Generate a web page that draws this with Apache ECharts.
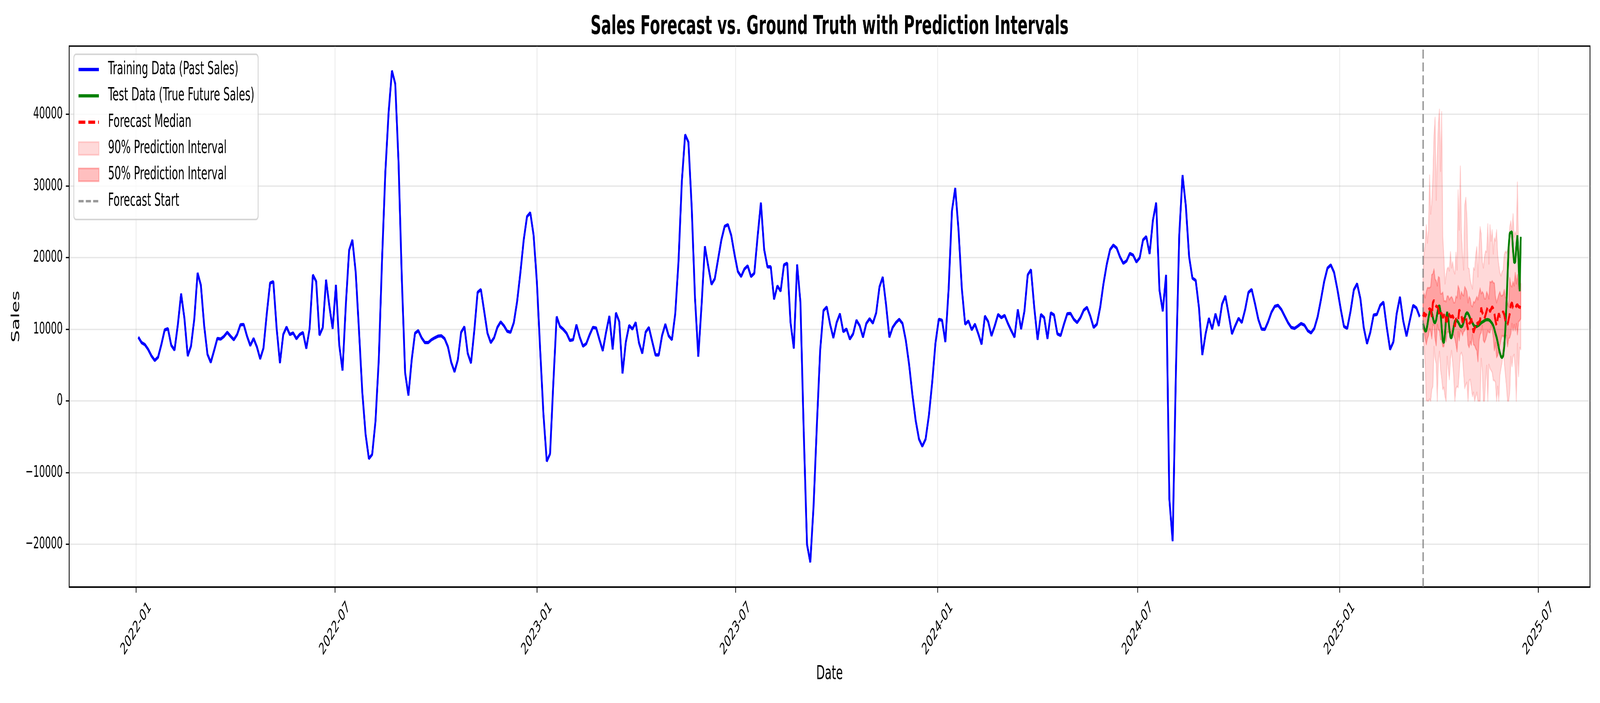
<!DOCTYPE html>
<html><head><meta charset="utf-8">
<script src="https://cdn.jsdelivr.net/npm/echarts@6/dist/echarts.min.js"></script>
<style>
html,body{margin:0;padding:0;background:#fff;overflow:hidden}
#c{width:7200px;height:1800px;transform-origin:0 0}
</style>
</head><body><div id="c"></div>
<script>
// ---------- data ----------
const trainStart = '2022-01-03';
const trainStepDays = 3;
const trainSales = [
8900,8140,7860,7190,6280,5650,6100,7860,9900,10080,
7770,7100,10620,14960,11530,6280,7640,11440,17850,16140,
10490,6510,5380,7010,8720,8630,9000,9580,9040,8540,
9270,10620,10670,9040,7730,8720,7550,5880,7370,12160,
16450,16630,10120,5290,9270,10310,9270,9490,8680,9270,
9540,7320,10080,17580,16680,9180,10220,16900,13240,10080,
16180,7820,4250,13420,
21020,22460,17940,9810,1220,-4660,-8050,-7460,-2850,5740,
19750,31960,40320,46060,44250,33310,17040,3930,770,5740,
9450,9810,8810,8140,8140,8540,8810,9040,9090,8680,
7550,5380,4070,5740,9580,10350,6640,5290,9810,15140,
15550,12520,9450,8140,8810,10260,11030,10490,9720,9580,
10940,13880,17940,22460,25720,26260,23140,16590,7100,-1940,
-8410,-7370,2580,11750,10400,9990,
9450,8450,8540,10620,8900,7640,8000,9220,10260,10170,
8540,7010,9580,11840,7190,12290,11070,3840,8230,10530,
10030,10940,8090,6640,9580,10260,8320,6420,6420,9130,
10710,9090,8540,12160,19530,30600,37150,36110,26980,14330,
6190,13420,21560,18850,16270,17040,19750,22460,24360,24590,
23100,20430,18080,17360,18400,18850,17360,17810,22920,27660,
21110,18710,18710,14190,16050,15320,18980,
19210,10940,7320,19030,13790,-4200,-20020,-22510,-14600,-3300,
7100,12610,13110,10710,8810,10940,12160,9670,10030,8630,
9360,11250,10490,8900,10800,11480,10850,12290,15910,17270,
13420,8900,10260,10940,11390,10800,8450,5060,860,-2760,
-5330,-6330,-5330,-2030,2580,8090,11390,11250,8230,15680,
26530,29700,23820,15680,10710,11160,9940,10710,9360,7910,
11840,11070,9090,10490,12070,11620,
11930,10800,9810,8900,12750,10030,12520,17580,18310,12970,
8540,12070,11620,8680,12290,11980,9360,9130,10710,12160,
12200,11390,10940,11620,12660,13060,11840,10260,10710,13060,
16360,19070,21110,21740,21330,20110,19210,19530,20570,20340,
19390,19980,22460,22920,20520,25180,27660,15460,12520,17580,
-13700,-19570,4380,23140,31500,27210,20110,17130,16810,12970,
6420,9360,11530,10030,12160,10490,
13510,14640,12070,9360,10490,11530,10940,12750,15140,15550,
13560,11390,10030,9990,11070,12380,13200,13330,12750,11840,
10940,10260,10120,10440,10800,10580,9810,9490,10120,11710,
14100,16680,18530,18980,17940,15590,12880,10400,10120,12520,
15500,16360,14240,10260,8000,9580,11980,12070,13330,13790,
10260,7190,8230,12160,14510,11160,9040,11250,13330,12970,
11750
];

const forecastStart = '2025-03-18';
const testSales = [
10800,10200,9750,9800,10600,11600,12400,12600,12300,11600,
11000,10900,11300,12200,13100,13300,12400,10200,8400,8100,
9300,11600,12400,11600,10000,8900,8800,9500,10400,11100,
11300,11200,11000,10700,10400,10350,10500,11000,11600,12100,
12300,12200,11900,11500,11200,10900,10600,10400,10370,10400,
10500,10600,10750,10900,11000,11100,11200,11300,11340,11340,
11300,11200,11000,10800,10500,10000,9400,8900,8200,7400,
6700,6200,6050,6300,7600,10000,13500,17500,21500,23400,
23500,23600,21000,19300,19400,21500,23100,19500,15300,22900
];
const forecastMedian = [
11760,12320,11820,12100,12450,12700,12870,12730,11760,13710,
14040,13500,13200,13150,12870,11760,12180,12200,11620,11900,
12320,11060,11200,12320,12000,11760,11760,11900,11480,10370,
11480,11300,11200,12730,12320,11900,10930,11480,11600,11760,
10790,9950,10790,10930,11480,10650,9540,10090,10500,11060,
10650,11000,11200,13010,12320,12000,11480,12040,12600,13150,
13010,12450,12800,13150,12870,12180,11200,10510,11500,12180,
11760,12040,12200,12450,12040,11200,10900,10650,11400,12180,
13430,13710,13010,12900,12870,13290,13430,13150,13100,13010
];
const lower90 = [
8500,7730,5090,80,0,0,280,0,1610,2030,
7590,5920,5230,0,5640,6890,4390,3140,1610,1890,
640,0,6200,4530,3000,5920,7030,5370,3420,0,
1750,2030,1890,4110,6480,6760,6200,3840,1750,2310,
2590,0,2860,3000,1900,640,1200,0,640,1200,
0,0,0,5920,4250,0,0,2860,4950,0,
5090,4530,4250,3980,2860,2860,2590,0,2030,0,
3560,4530,5370,8150,5370,3700,2030,0,0,1200,
6200,4810,6200,6480,4530,0,8010,3420,7450,7170
];
const upper90 = [
17300,20660,21910,24550,22050,23850,31500,26080,27740,31220,
37060,39560,28020,34000,38730,40670,32050,40340,22880,20100,
16350,17600,18430,18650,18150,20790,18570,19400,18150,17740,
20710,18290,29410,23850,32750,23440,20380,18290,27330,28380,
25520,18570,18430,16900,16200,15650,18570,18290,20380,21490,
17320,21210,24270,23300,19400,18570,20100,20930,20790,24690,
19130,24550,22320,23850,20520,22740,22320,23850,20380,18990,
17880,17460,18010,18290,20380,20880,20660,21070,21910,24270,
25100,23440,26080,22880,23570,23160,30520,20380,21630,16500
];
const lower50 = [
10000,9670,8700,7870,8700,9120,10090,9670,8700,10650,
10510,8700,7730,10650,9950,9810,8560,8560,7590,7590,
8980,8280,9540,9670,9540,8980,9810,9540,9120,8700,
7870,6890,9670,8420,9810,9670,9120,9670,9810,10370,
10090,7870,7450,8280,7800,9260,7870,7730,7310,7030,
5500,8420,9260,9540,10510,8420,8150,8560,9120,9810,
9540,9540,10510,9950,8840,7030,8150,6060,6340,7030,
7730,8560,9120,8980,9120,9120,9120,7590,8700,8840,
9400,10790,9810,10650,9810,10790,9260,11060,11200,11480
];
const upper50 = [
14000,14960,14400,15230,15790,15790,15790,15930,17600,17740,
18380,16990,16760,16070,17320,17180,14960,14960,15150,13930,
13980,13840,14620,14620,14120,14400,14540,14260,13710,13710,
14600,14400,16070,15600,14260,15230,14820,14680,15930,15650,
15230,13710,14540,14260,13300,13150,13840,13710,14120,14540,
14120,14960,15710,14960,15230,14960,14260,14260,15230,14820,
14260,16620,16540,16760,16490,16430,14540,13710,14260,14820,
15230,14680,14680,14820,15510,14400,14540,13710,13150,17180,
16070,15930,16620,16070,17880,16350,17600,15650,16210,16350
];
const xTickLabels = ['2022-01','2022-07','2023-01','2023-07','2024-01','2024-07','2025-01','2025-07'];
const yTickValues = [-20000,-10000,0,10000,20000,30000,40000];

// ---------- fit the 7200x1800 drawing into the actual window ----------
(function fit() {
  const el = document.getElementById('c');
  const vw = window.innerWidth || 7200, vh = window.innerHeight || 1800;
  const sx = Math.min(1, vw / 7200), sy = Math.min(1, vh / 1800);
  if (sx < 1 || sy < 1) el.style.transform = 'scale(' + sx + ',' + sy + ')';
})();

// ---------- build ----------
const DAY = 86400000;
const t0 = Date.parse(trainStart);
const f0 = Date.parse(forecastStart);
const fx = i => f0 + i * DAY;
const trainData = trainSales.map((v, i) => [t0 + i * trainStepDays * DAY, v]);
const testData = testSales.map((v, i) => [fx(i), v]);
const medData = forecastMedian.map((v, i) => [fx(i), v]);
const xTicks = xTickLabels.map(s => Date.parse(s + '-01'));

const FONT = 'DejaVu Sans';
const gridLine = {show: true, lineStyle: {color: 'rgba(176,176,176,0.3)', width: 3.3}};
const band90 = 'rgba(255,0,0,0.15)';
const band50 = 'rgba(255,0,0,0.25)';
const trainStyle = {color: '#0000ff', width: 8.3, type: 'solid'};
const testStyle = {color: '#008000', width: 8.3, type: 'solid'};
const medStyle = {color: '#ff0000', width: 8.3, type: [30.8, 13.3]};
const startStyle = {color: 'rgba(128,128,128,0.8)', width: 6.25, type: [23, 10]};
const hideSym = {opacity: 0};

// band between lo and hi, drawn as one polygon through the axis scales
function bandSeries(name, lo, hi, color, z) {
  return {
    name: name, type: 'custom', z: z, silent: true,
    data: lo.map((v, i) => [fx(i), v, hi[i]]),
    encode: {x: 0, y: [1, 2]},
    itemStyle: {color: color},
    renderItem: function (params, api) {
      if (params.dataIndex !== 0) return null;
      const top = hi.map((v, i) => api.coord([fx(i), v]));
      const bot = lo.map((v, i) => api.coord([fx(i), v])).reverse();
      return {type: 'polygon', shape: {points: top.concat(bot)},
              style: {fill: color, stroke: color, lineWidth: 4.2, lineJoin: 'round'}};
    }
  };
}

const chart = echarts.init(document.getElementById('c'), null, {renderer: 'canvas'});
chart.setOption({
  animation: false,
  backgroundColor: '#ffffff',
  textStyle: {fontFamily: FONT},
  title: {
    text: 'Sales Forecast vs. Ground Truth with Prediction Intervals',
    left: 3733, top: 36, textAlign: 'center', padding: 0,
    textStyle: {fontFamily: FONT, fontWeight: 'bold', fontSize: 66.7, color: '#000'}
  },
  grid: {left: 311, top: 118, right: 45, bottom: 297, show: true, borderColor: '#000', borderWidth: 3.3, containLabel: false},
  legend: {
    orient: 'vertical', left: 332, top: 139,
    padding: [14, 17, 22, 17],
    itemWidth: 92, itemHeight: 33, itemGap: 17.4,
    backgroundColor: 'rgba(255,255,255,0.8)', borderColor: 'rgba(204,204,204,0.8)', borderWidth: 4.2, borderRadius: 10,
    selectedMode: false,
    textStyle: {fontFamily: FONT, fontSize: 45.8, color: '#000', lineHeight: 50, padding: [0, 0, 0, 36]},
    data: [
      {name: 'Training Data (Past Sales)', itemStyle: hideSym, lineStyle: trainStyle},
      {name: 'Test Data (True Future Sales)', itemStyle: hideSym, lineStyle: testStyle},
      {name: 'Forecast Median', itemStyle: hideSym, lineStyle: medStyle},
      {name: '90% Prediction Interval', icon: 'rect', itemStyle: {color: band90, borderColor: band90, borderWidth: 4.2}},
      {name: '50% Prediction Interval', icon: 'rect', itemStyle: {color: band50, borderColor: band50, borderWidth: 4.2}},
      {name: 'Forecast Start', itemStyle: hideSym, lineStyle: startStyle}
    ]
  },
  xAxis: {
    type: 'value',
    min: Date.parse('2021-11-01T00:00:00Z'),
    max: Date.parse('2025-08-17T02:00:00Z'),
    name: 'Date', nameLocation: 'middle', nameGap: 198,
    nameTextStyle: {fontFamily: FONT, fontSize: 50, color: '#000'},
    axisLine: {show: true, onZero: false, lineStyle: {color: '#000', width: 3.3}},
    axisTick: {show: true, length: 14.6, lineStyle: {color: '#000', width: 3.3}, customValues: xTicks},
    axisLabel: {
      customValues: xTicks, rotate: 45, align: 'center', verticalAlign: 'middle', margin: 107,
      fontFamily: FONT, fontSize: 41.7, color: '#000',
      formatter: v => new Date(v).toISOString().slice(0, 7)
    },
    splitLine: gridLine
  },
  yAxis: {
    type: 'value', min: -25960, max: 49510,
    name: 'Sales', nameLocation: 'middle', nameGap: 213,
    nameTextStyle: {fontFamily: FONT, fontSize: 50, color: '#000'},
    axisLine: {show: true, onZero: false, lineStyle: {color: '#000', width: 3.3}},
    axisTick: {show: true, length: 14.6, lineStyle: {color: '#000', width: 3.3}, customValues: yTickValues},
    axisLabel: {
      customValues: yTickValues, margin: 29, fontFamily: FONT, fontSize: 41.7, color: '#000',
      formatter: v => (v < 0 ? '\u2212' + Math.abs(v) : String(v))
    },
    splitLine: gridLine
  },
  series: [
    bandSeries('90% Prediction Interval', lower90, upper90, band90, 1),
    bandSeries('50% Prediction Interval', lower50, upper50, band50, 2),
    {name: 'Training Data (Past Sales)', type: 'line', data: trainData, symbol: 'none', z: 3,
     lineStyle: trainStyle, itemStyle: {color: '#0000ff'}},
    {name: 'Test Data (True Future Sales)', type: 'line', data: testData, symbol: 'none', z: 4,
     lineStyle: testStyle, itemStyle: {color: '#008000'}},
    {name: 'Forecast Median', type: 'line', data: medData, symbol: 'none', z: 5,
     lineStyle: medStyle, itemStyle: {color: '#ff0000'}},
    {name: 'Forecast Start', type: 'line', data: [], symbol: 'none', z: 6,
     lineStyle: startStyle, itemStyle: {color: 'rgba(128,128,128,0.8)'},
     markLine: {silent: true, symbol: 'none', label: {show: false}, lineStyle: startStyle,
       data: [{xAxis: f0}]}}
  ]
});
</script>
</body></html>
